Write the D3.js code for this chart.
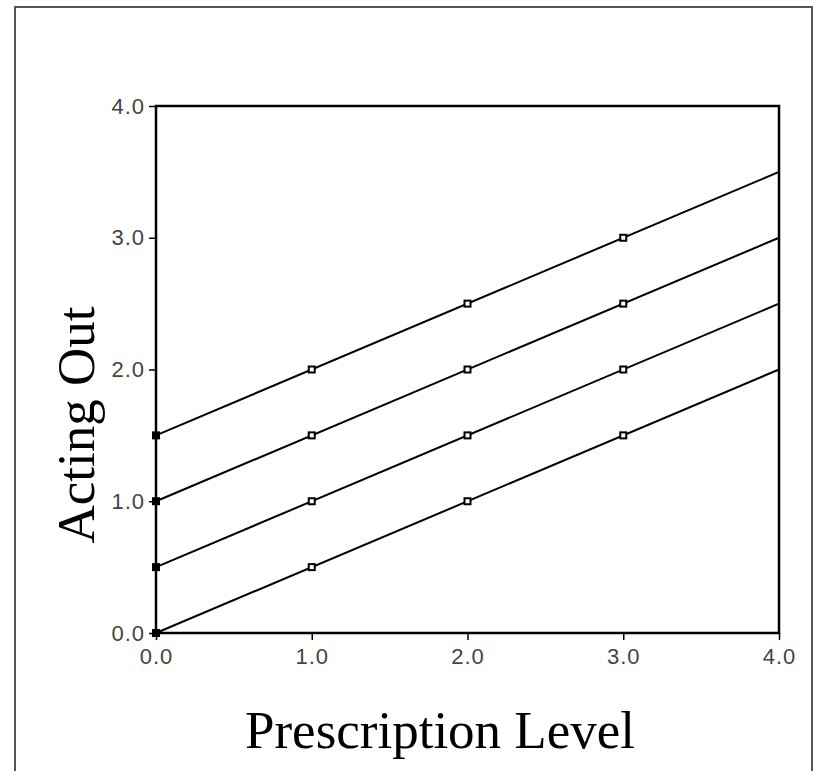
<!DOCTYPE html>
<html>
<head>
<meta charset="utf-8">
<script src="https://cdn.jsdelivr.net/npm/d3@7"></script>
<style>
  html, body { margin: 0; padding: 0; background: #fff; }
  svg { display: block; }
</style>
</head>
<body>
<div id="chart"></div>
<script>
// prescription level on x, acting out on y; one line per starting level
var xTicks = [0, 1, 2, 3, 4];
var yTicks = [0, 1, 2, 3, 4];
var intercepts = [0, 0.5, 1, 1.5];
var slope = 0.5;
var pointX = [0, 1, 2, 3];
var pointY = [
    [0, 0.5, 1, 1.5],
    [0.5, 1, 1.5, 2],
    [1, 1.5, 2, 2.5],
    [1.5, 2, 2.5, 3]
];

var width = 816, height = 771;
var plot = { left: 156, right: 779, top: 106, bottom: 633 };

var svg = d3.select("#chart").append("svg")
    .attr("width", width)
    .attr("height", height);

// outer frame
svg.append("rect")
    .attr("x", 15).attr("y", 7)
    .attr("width", 797).attr("height", 780)
    .attr("fill", "none")
    .attr("stroke", "#555")
    .attr("stroke-width", 2);

var x = d3.scaleLinear().domain([0, 4]).range([plot.left, plot.right]);
var y = d3.scaleLinear().domain([0, 4]).range([plot.bottom, plot.top]);

var fmt = d3.format(".1f");

var xAxis = svg.append("g")
    .attr("transform", "translate(0," + plot.bottom + ")")
    .call(d3.axisBottom(x).tickValues(xTicks).tickFormat(fmt).tickSize(7).tickPadding(10));

var yAxis = svg.append("g")
    .attr("transform", "translate(" + plot.left + ",0)")
    .call(d3.axisLeft(y).tickValues(yTicks).tickFormat(fmt).tickSize(7).tickPadding(4));

[xAxis, yAxis].forEach(function(g) {
    g.select(".domain").remove();
    g.selectAll(".tick line").attr("stroke", "#000").attr("stroke-width", 1.5);
    g.selectAll(".tick text")
        .attr("fill", "#444")
        .style("font-family", "'Liberation Sans Narrow', 'Arial Narrow', Arial, sans-serif")
        .style("font-size", "22px")
        .style("letter-spacing", "1px");
});
xAxis.selectAll(".tick text").attr("dy", "0.62em");

// plot box
svg.append("rect")
    .attr("x", plot.left).attr("y", plot.top)
    .attr("width", plot.right - plot.left)
    .attr("height", plot.bottom - plot.top)
    .attr("fill", "none")
    .attr("stroke", "#000")
    .attr("stroke-width", 2.5);

// fit lines
svg.selectAll(".fit")
    .data(intercepts)
    .enter()
    .append("line")
    .attr("class", "fit")
    .attr("x1", x(0)).attr("y1", function(b) { return y(b); })
    .attr("x2", x(4)).attr("y2", function(b) { return y(b + slope * 4); })
    .attr("stroke", "#000")
    .attr("stroke-width", 2);

// markers
pointX.forEach(function(px, i) {
    svg.selectAll(".pt" + i)
        .data(pointY[i])
        .enter()
        .append("rect")
        .attr("x", x(px) - 3)
        .attr("y", function(v) { return y(v) - 3; })
        .attr("width", 6).attr("height", 6)
        .attr("fill", px === 0 ? "#000" : "#fff")
        .attr("stroke", "#000")
        .attr("stroke-width", 2);
});

// titles
svg.append("text")
    .attr("x", 440).attr("y", 748)
    .attr("text-anchor", "middle")
    .style("font-family", "'Liberation Serif', 'Times New Roman', serif")
    .style("font-size", "53px")
    .text("Prescription Level");

svg.append("text")
    .attr("transform", "translate(94,425) rotate(-90)")
    .attr("text-anchor", "middle")
    .style("font-family", "'Liberation Serif', 'Times New Roman', serif")
    .style("font-size", "53px")
    .text("Acting Out");
</script>
</body>
</html>
